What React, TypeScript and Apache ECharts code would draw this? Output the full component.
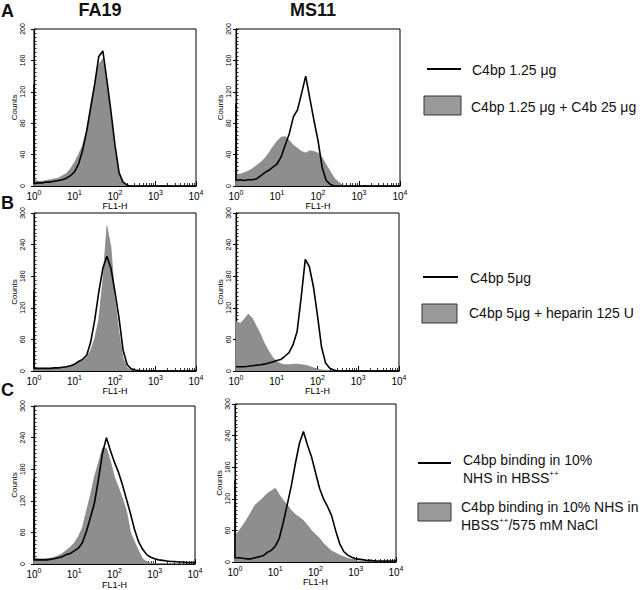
import React, { useEffect, useRef } from "react";
import * as echarts from "echarts";

const FONT = "'Liberation Sans', Arial, Helvetica, sans-serif";

// FL1-H channel positions (log spaced, 10 per decade)
const fl1 = [1, 1.26, 1.58, 2, 2.51, 3.16, 3.98, 5.01, 6.31, 7.94,
  10, 12.6, 15.8, 20, 25.1, 31.6, 39.8, 50.1, 63.1, 79.4,
  100, 126, 158, 200, 251, 316, 398, 501, 631, 794,
  1000, 1259, 1585, 1995, 2512, 3162, 3981, 5012, 6310, 7943, 10000];

const minorLogTicks = [2, 3, 4, 5, 6, 7, 8, 9, 20, 30, 40, 50, 60, 70, 80, 90,
  200, 300, 400, 500, 600, 700, 800, 900, 2000, 3000, 4000, 5000, 6000, 7000, 8000, 9000];

// Row A: C4bp 1.25 µg (line) vs C4bp 1.25 µg + C4b 25 µg (filled)
const aFA19Line = [3, 4, 4, 5, 5, 6, 7, 8, 10, 13, 18, 28, 45, 70, 100, 130, 165, 172, 135, 95, 52, 17, 5, 1, 0, 0, 0, 0, 0, 0, 0, 0, 0, 0, 0, 0, 0, 0, 0, 0, 0];
const aFA19Fill = [8, 6, 6, 7, 8, 9, 10, 13, 16, 22, 30, 40, 52, 72, 102, 130, 155, 162, 128, 88, 46, 14, 4, 1, 0, 0, 0, 0, 0, 0, 0, 0, 0, 0, 0, 0, 0, 0, 0, 0, 0];
const aFA19Pile = 129;
const aMS11Line = [7, 8, 7, 8, 8, 9, 13, 17, 20, 24, 28, 37, 52, 67, 88, 97, 118, 140, 112, 84, 58, 24, 7, 2, 0, 0, 0, 0, 0, 0, 0, 0, 0, 0, 0, 0, 0, 0, 0, 0, 0];
const aMS11Fill = [15, 15, 17, 19, 22, 26, 30, 35, 42, 50, 57, 62, 63, 58, 52, 48, 44, 42, 45, 44, 42, 36, 27, 18, 10, 5, 1, 0, 0, 0, 0, 0, 0, 0, 0, 0, 0, 0, 0, 0, 0];
const aMS11Pile = 105;

// Row B: C4bp 5 µg (line) vs + heparin 125 U (filled)
const bFA19Line = [5, 5, 5, 5, 5, 6, 6, 7, 8, 10, 13, 18, 22, 30, 55, 97, 150, 195, 218, 195, 150, 100, 40, 12, 4, 2, 1, 0, 0, 0, 0, 0, 0, 0, 0, 0, 0, 0, 0, 0, 0];
const bFA19Fill = [6, 5, 5, 5, 5, 5, 6, 7, 8, 10, 12, 16, 20, 25, 40, 62, 98, 172, 275, 235, 135, 72, 25, 6, 1, 0, 0, 0, 0, 0, 0, 0, 0, 0, 0, 0, 0, 0, 0, 0, 0];
const bFA19Pile = 154;
const bMS11Line = [8, 8, 8, 9, 10, 11, 12, 13, 15, 17, 20, 22, 28, 35, 50, 75, 140, 212, 198, 160, 105, 45, 15, 5, 2, 0, 0, 0, 0, 0, 0, 0, 0, 0, 0, 0, 0, 0, 0, 0, 0];
const bMS11Fill = [95, 90, 98, 108, 100, 85, 70, 52, 38, 26, 18, 14, 12, 12, 13, 13, 12, 11, 9, 6, 4, 2, 1, 0, 0, 0, 0, 0, 0, 0, 0, 0, 0, 0, 0, 0, 0, 0, 0, 0, 0];
const bMS11Pile = 0;

// Row C: 10% NHS in HBSS++ (line) vs HBSS++/575 mM NaCl (filled)
const cFA19Line = [8, 8, 8, 8, 9, 10, 12, 14, 18, 20, 25, 30, 40, 62, 88, 115, 160, 210, 240, 215, 193, 174, 150, 122, 95, 65, 42, 28, 18, 13, 10, 8, 7, 6, 5, 5, 4, 4, 3, 3, 3];
const cFA19Fill = [12, 10, 10, 10, 11, 13, 16, 20, 26, 32, 40, 52, 68, 100, 130, 165, 192, 220, 220, 195, 165, 145, 125, 100, 60, 42, 25, 10, 4, 2, 1, 0, 0, 0, 0, 0, 0, 0, 0, 0, 0];
const cFA19Pile = 162;
const cMS11Line = [8, 8, 7, 6, 6, 8, 10, 12, 18, 22, 30, 45, 75, 110, 145, 187, 225, 248, 222, 200, 170, 140, 120, 105, 88, 60, 35, 20, 13, 9, 6, 5, 4, 3, 3, 2, 2, 2, 2, 2, 2];
const cMS11Fill = [48, 60, 70, 82, 95, 108, 115, 122, 130, 135, 140, 128, 117, 108, 98, 90, 85, 79, 70, 60, 52, 45, 35, 28, 21, 17, 13, 10, 7, 5, 3, 1, 0, 0, 0, 0, 0, 0, 0, 0, 0];
const cMS11Pile = 155;

const panels = [
  { line: aFA19Line, fill: aFA19Fill, pile: aFA19Pile, yMax: 200, yStep: 40, minorStep: 5, left: 34, top: 29, width: 162, height: 157, labelMargin: 8, countsGap: 13, xNameGap: 14 },
  { line: aMS11Line, fill: aMS11Fill, pile: aMS11Pile, yMax: 200, yStep: 40, minorStep: 5, left: 236, top: 29, width: 164, height: 157, labelMargin: 4, countsGap: 9, xNameGap: 14 },
  { line: bFA19Line, fill: bFA19Fill, pile: bFA19Pile, yMax: 300, yStep: 60, minorStep: 7.5, left: 34, top: 213, width: 162, height: 158, labelMargin: 8, countsGap: 13, xNameGap: 10 },
  { line: bMS11Line, fill: bMS11Fill, pile: bMS11Pile, yMax: 300, yStep: 60, minorStep: 7.5, left: 236, top: 213, width: 163, height: 158, labelMargin: 4, countsGap: 9, xNameGap: 10 },
  { line: cFA19Line, fill: cFA19Fill, pile: cFA19Pile, yMax: 300, yStep: 60, minorStep: 7.5, left: 34, top: 406, width: 161, height: 160, labelMargin: 8, countsGap: 13, xNameGap: 12 },
  { line: cMS11Line, fill: cMS11Fill, pile: cMS11Pile, yMax: 300, yStep: 60, minorStep: 7.5, left: 235, top: 404, width: 161, height: 158, labelMargin: 4, countsGap: 9, xNameGap: 12 },
];

function buildOption() {
  const grid: any[] = [];
  const xAxis: any[] = [];
  const yAxis: any[] = [];
  const series: any[] = [];

  panels.forEach((p, i) => {
    grid.push({
      left: p.left, top: p.top, width: p.width, height: p.height,
      show: true, borderColor: "#000", borderWidth: 1, backgroundColor: "transparent",
    });
    xAxis.push({
      type: "log", logBase: 10, gridIndex: i, min: 1, max: 10000, position: "bottom",
      name: "FL1-H", nameLocation: "middle", nameGap: p.xNameGap,
      nameTextStyle: { fontFamily: FONT, fontSize: 9, color: "#000" },
      axisLine: { show: true, onZero: false, lineStyle: { color: "#000", width: 1.2 } },
      axisTick: { show: true, inside: true, length: 5, lineStyle: { color: "#000", width: 1 } },
      axisLabel: {
        margin: 3, showMinLabel: true, showMaxLabel: true, color: "#000",
        formatter: (v: number) => `{b|10}{s|${Math.round(Math.log10(v))}}`,
        rich: {
          b: { fontFamily: FONT, fontSize: 10, color: "#000", verticalAlign: "bottom", lineHeight: 12 },
          s: { fontFamily: FONT, fontSize: 7, color: "#000", verticalAlign: "top", lineHeight: 8 },
        },
      },
      splitLine: { show: false },
    });
    xAxis.push({
      type: "log", logBase: 10, gridIndex: i, min: 1, max: 10000, position: "bottom",
      axisLine: { show: false }, axisLabel: { show: false }, splitLine: { show: false },
      axisTick: { show: true, inside: true, length: 3, customValues: minorLogTicks, lineStyle: { color: "#000", width: 0.8 } },
    });
    yAxis.push({
      type: "value", gridIndex: i, min: 0, max: p.yMax, interval: p.yStep, position: "left",
      name: "Counts", nameLocation: "middle", nameGap: p.countsGap,
      nameTextStyle: { fontFamily: FONT, fontSize: 8, color: "#000" },
      axisLine: { show: true, lineStyle: { color: "#000", width: 1.2 } },
      axisTick: { show: true, inside: false, length: 3, lineStyle: { color: "#000" } },
      axisLabel: { rotate: 90, fontFamily: FONT, fontSize: 7, color: "#000", margin: p.labelMargin },
      splitLine: { show: false },
    });
    yAxis.push({
      type: "value", gridIndex: i, min: 0, max: p.yMax, interval: p.minorStep, position: "left",
      axisLine: { show: false }, axisLabel: { show: false }, splitLine: { show: false },
      axisTick: { show: true, inside: true, length: 2.5, lineStyle: { color: "#000", width: 0.8 } },
    });

    series.push({
      type: "line", xAxisIndex: i * 2, yAxisIndex: i * 2,
      data: fl1.map((x, k) => [x, p.fill[k]]),
      symbol: "none", silent: true, z: 2,
      lineStyle: { width: 0.6, color: "#7a7a7a" },
      areaStyle: { color: "#8e8e8e", opacity: 1 },
    });
    const lineData: number[][] = fl1.map((x, k) => [x, p.line[k]]);
    if (p.pile > 0) lineData.unshift([1, p.pile]);
    series.push({
      type: "line", xAxisIndex: i * 2, yAxisIndex: i * 2,
      data: lineData, symbol: "none", silent: true, z: 3,
      lineStyle: { width: 1.6, color: "#000" },
    });
  });

  const txt = (x: number, y: number, text: string, size: number, weight = "normal", align = "left") => ({
    type: "text", x, y,
    style: { text, fontFamily: FONT, fontSize: size, fontWeight: weight, fill: "#111", align, verticalAlign: "middle" },
  });
  const richTxt = (x: number, y: number, text: string) => ({
    type: "text", x, y,
    style: {
      text, fontFamily: FONT, fontSize: 14, fill: "#111", align: "left", verticalAlign: "middle",
      rich: {
        n: { fontFamily: FONT, fontSize: 14, fill: "#111", verticalAlign: "bottom", lineHeight: 15 },
        s: { fontFamily: FONT, fontSize: 8, fill: "#111", verticalAlign: "top", lineHeight: 8 },
      },
    },
  });
  const legLine = (x1: number, x2: number, y: number) => ({
    type: "line", shape: { x1, y1: y, x2, y2: y }, style: { stroke: "#000", lineWidth: 2 },
  });
  const legBox = (x: number, y: number, w: number, h: number) => ({
    type: "rect", shape: { x, y, width: w, height: h }, style: { fill: "#9a9a9a", stroke: "#333", lineWidth: 1 },
  });

  const graphic = [
    txt(1, 11, "A", 18, "bold"),
    txt(1, 203, "B", 18, "bold"),
    txt(1, 390, "C", 18, "bold"),
    txt(100, 10, "FA19", 18, "bold", "center"),
    txt(313, 10, "MS11", 18, "bold", "center"),
    legLine(427, 461, 69),
    txt(472, 70, "C4bp 1.25 μg", 14),
    legBox(424, 96, 37, 19),
    txt(471, 107, "C4bp 1.25 μg + C4b 25 μg", 14),
    legLine(423, 458, 277),
    txt(470, 278, "C4bp 5μg", 14),
    legBox(422, 304, 35, 19),
    txt(469, 313, "C4bp 5μg + heparin 125 U", 14),
    legLine(418, 451, 463),
    txt(463, 460, "C4bp binding in 10%", 14),
    richTxt(463, 477, "{n|NHS in HBSS}{s|++}"),
    legBox(418, 503, 33, 18),
    txt(461, 507, "C4bp binding in 10% NHS in", 14),
    richTxt(461, 524, "{n|HBSS}{s|++}{n|/575 mM NaCl}"),
  ];

  return { animation: false, backgroundColor: "#fff", grid, xAxis, yAxis, series, graphic };
}

export default function App() {
  const ref = useRef<HTMLDivElement>(null);
  useEffect(() => {
    if (!ref.current) return;
    const chart = echarts.init(ref.current, null, { renderer: "svg" });
    chart.setOption(buildOption() as any);
    return () => chart.dispose();
  }, []);
  return (
    <div
      ref={ref}
      style={{ position: "fixed", left: 0, top: 0, width: 640, height: 590, background: "#fff" }}
    />
  );
}
